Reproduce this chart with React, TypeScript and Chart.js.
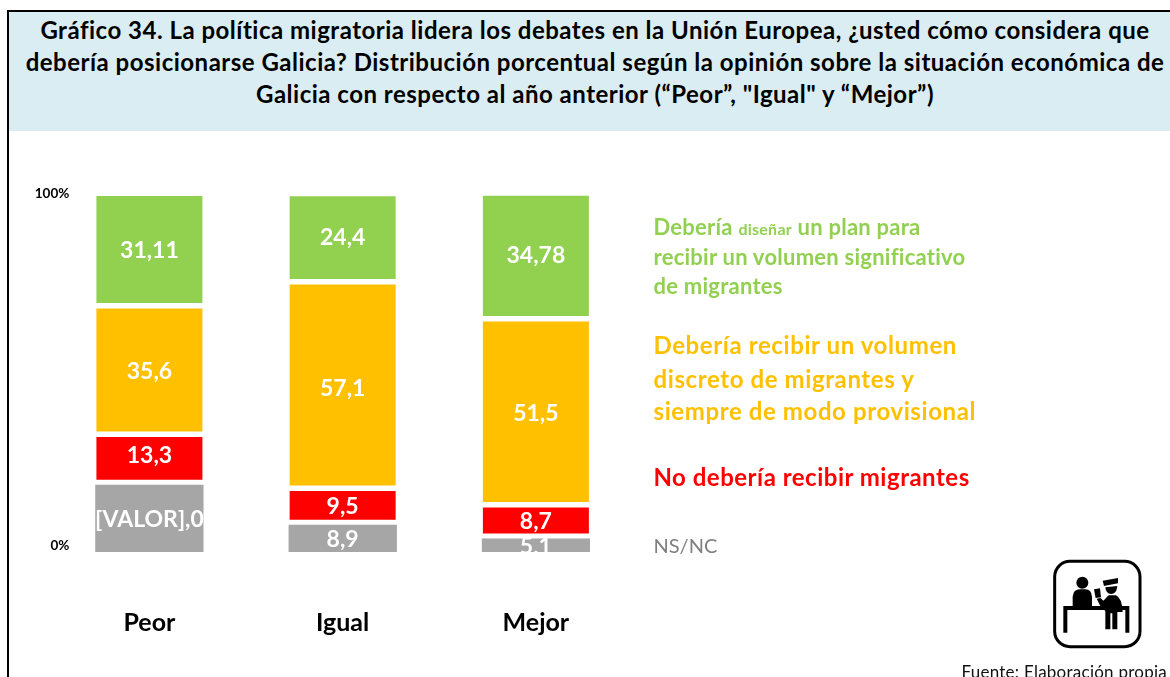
import React, { useEffect, useRef } from "react";
import { Chart, registerables } from "chart.js";

Chart.register(...registerables);

const FONT = "Lato, Carlito, 'Open Sans', sans-serif";

const categories = ["Peor", "Igual", "Mejor"];
const nsNc = [20.0, 8.9, 5.1];
const noRecibir = [13.3, 9.5, 8.7];
const discreto = [35.6, 57.1, 51.5];
const plan = [31.11, 24.4, 34.78];
const nsNcLabels = ["[VALOR],0", "8,9", "5,1"];
const noRecibirLabels = ["13,3", "9,5", "8,7"];
const discretoLabels = ["35,6", "57,1", "51,5"];
const planLabels = ["31,11", "24,4", "34,78"];
const yTickValues = [2.5, 100];
const yTickLabels = ["0%", "100%"];
const titleLines = [
  "Gráfico 34. La política migratoria lidera los debates en la Unión Europea, ¿usted cómo considera que",
  "debería posicionarse Galicia? Distribución porcentual según la opinión sobre la situación económica de",
  "Galicia con respecto al año anterior (“Peor”, \"Igual\" y “Mejor”)",
];
const source = "Fuente: Elaboración propia";

const barLabelsPlugin = {
  id: "barLabels",
  afterDatasetsDraw(chart: any) {
    const { ctx } = chart;
    ctx.save();
    ctx.fillStyle = "#ffffff";
    ctx.font = `bold 23px ${FONT}`;
    ctx.textAlign = "center";
    ctx.textBaseline = "middle";
    chart.data.datasets.forEach((ds: any, i: number) => {
      chart.getDatasetMeta(i).data.forEach((bar: any, j: number) => {
        const c = bar.getCenterPoint();
        ctx.fillText(ds.valueLabels[j], c.x, c.y + 1 + (ds.labelShift ? ds.labelShift[j] : 0));
      });
    });
    ctx.restore();
  },
};

const Line = ({ top, size, color, weight = 700, spacing = 0, left = 653.5, children }: any) => (
  <div
    style={{
      position: "absolute",
      left,
      top: top - 20,
      height: 40,
      lineHeight: "40px",
      whiteSpace: "nowrap",
      fontFamily: FONT,
      fontWeight: weight,
      fontSize: size,
      letterSpacing: spacing,
      color,
    }}
  >
    {children}
  </div>
);

export default function App() {
  const ref = useRef<HTMLCanvasElement>(null);
  useEffect(() => {
    const side = { top: 2.5, bottom: 3, left: 1.3, right: 1.3 };
    const common = { borderColor: "#ffffff", borderSkipped: false, borderWidth: side };
    const chart = new Chart(ref.current as HTMLCanvasElement, {
      type: "bar",
      data: {
        labels: categories,
        datasets: [
          { label: "NS/NC", data: nsNc, valueLabels: nsNcLabels, backgroundColor: "#A6A6A6", borderColor: "#ffffff", borderSkipped: false, borderWidth: { top: 2, bottom: 3, left: 0, right: 0 } },
          { label: "No debería recibir migrantes", data: noRecibir, valueLabels: noRecibirLabels, labelShift: [-4, 0, 0], backgroundColor: "#FF0000", ...common },
          { label: "Debería recibir un volumen discreto", data: discreto, valueLabels: discretoLabels, labelShift: [0, 2, 1], backgroundColor: "#FFC000", ...common },
          { label: "Debería diseñar un plan", data: plan, valueLabels: planLabels, labelShift: [0, -1, -1], backgroundColor: "#92D050", ...common },
        ] as any,
      },
      options: {
        responsive: false,
        animation: false,
        layout: { padding: { left: 0, right: 537.5, top: 193.5, bottom: 0 } },
        plugins: { legend: { display: false }, tooltip: { enabled: false }, title: { display: false } },
        datasets: { bar: { barPercentage: 0.562, categoryPercentage: 1 } },
        scales: {
          x: {
            stacked: true,
            grid: { display: false, drawTicks: false },
            border: { display: false },
            afterFit: (s: any) => { s.height = 122; },
            ticks: { color: "#000000", padding: 53, font: { family: FONT, weight: "bold", size: 25 }, maxRotation: 0 },
          },
          y: {
            stacked: true,
            min: 0,
            max: 100,
            grid: { display: false, drawTicks: false },
            border: { display: false },
            afterFit: (s: any) => {
              s.width = 52.8;
              // the tick labels sit over the plot's left edge, so they must not be clipped to the axis box
              s._computeLabelArea = () => undefined;
            },
            afterBuildTicks: (s: any) => { s.ticks = yTickValues.map((value) => ({ value })); },
            ticks: {
              color: "#000000",
              padding: -16.5,
              font: { family: FONT, weight: "bold", size: 13.5 },
              callback: (v: any) => yTickLabels[yTickValues.indexOf(v)],
            },
          },
        },
      } as any,
      plugins: [barLabelsPlugin],
    });
    return () => chart.destroy();
  }, []);

  return (
    <div style={{ position: "absolute", left: 0, top: 0, width: 1170, height: 677, overflow: "hidden", background: "#fff", fontFamily: FONT }}>
      <div style={{ position: "absolute", left: 9, top: 12, right: 0, height: 119, background: "#DAEDF3" }} />
      <div style={{ position: "absolute", left: 7, top: 10, right: 0, height: 2, background: "#000" }} />
      <div style={{ position: "absolute", left: 7, top: 10, width: 2, height: 667, background: "#000" }} />
      {titleLines.map((t, i) => (
        <div key={i} style={{ position: "absolute", left: 20, width: 1150, top: 14 + i * 32, height: 32, lineHeight: "32px", textAlign: "center", fontWeight: 700, fontSize: 24, letterSpacing: 0.5, color: "#000", whiteSpace: "nowrap" }}>
          {t}
        </div>
      ))}
      <canvas ref={ref} width={1170} height={677} style={{ position: "absolute", left: 0, top: 0, display: "block" }} />
      <Line top={227} size={22} spacing={0.25} color="#92D050">Debería <span style={{ fontSize: 16 }}>diseñar</span> un plan para</Line>
      <Line top={257} size={22} spacing={0.25} color="#92D050">recibir un volumen significativo</Line>
      <Line top={286} size={22} spacing={0.25} color="#92D050">de migrantes</Line>
      <Line top={345} size={24} spacing={0.6} color="#FFC000">Debería recibir un volumen</Line>
      <Line top={379} size={24} spacing={0.6} color="#FFC000">discreto de migrantes y</Line>
      <Line top={411} size={24} spacing={0.6} color="#FFC000">siempre de modo provisional</Line>
      <Line top={477} size={24} spacing={0.5} color="#FF0000">No debería recibir migrantes</Line>
      <Line top={545} size={20} color="#7F7F7F" weight={400}>NS/NC</Line>
      <svg style={{ position: "absolute", left: 1050, top: 556 }} width={95} height={95} viewBox="0 0 285 285">
        <rect x="14" y="16" width="256" height="256" rx="46" fill="none" stroke="#000" strokeWidth="9" />
        <circle cx="97" cy="80" r="18" fill="#000" />
        <path d="M68 152 L68 122 Q70 100 90 100 L106 100 Q124 100 126 122 L126 152 Z" fill="#000" />
        <path d="M46 230 L46 156 L165 156 M198 156 L232 156 L232 230" fill="none" stroke="#000" strokeWidth="12" />
        <path d="M158 74 L204 66 L204 82 L162 90 Z" fill="#000" />
        <path d="M166 94 L202 90 Q200 114 183 114 Q168 114 166 94 Z" fill="#000" />
        <path d="M132 100 L150 97 L153 124 L137 126 Z" fill="#000" />
        <path d="M140 128 L152 126 L160 134 L176 118 L198 118 Q216 126 218 168 L202 168 L202 220 L187 220 L187 172 L181 172 L181 220 L166 220 L166 165 L152 152 Z" fill="#000" />
      </svg>
      <div style={{ position: "absolute", right: 3, top: 661, height: 22, lineHeight: "22px", fontSize: 17, letterSpacing: 0.25, color: "#111", whiteSpace: "nowrap" }}>{source}</div>
    </div>
  );
}
